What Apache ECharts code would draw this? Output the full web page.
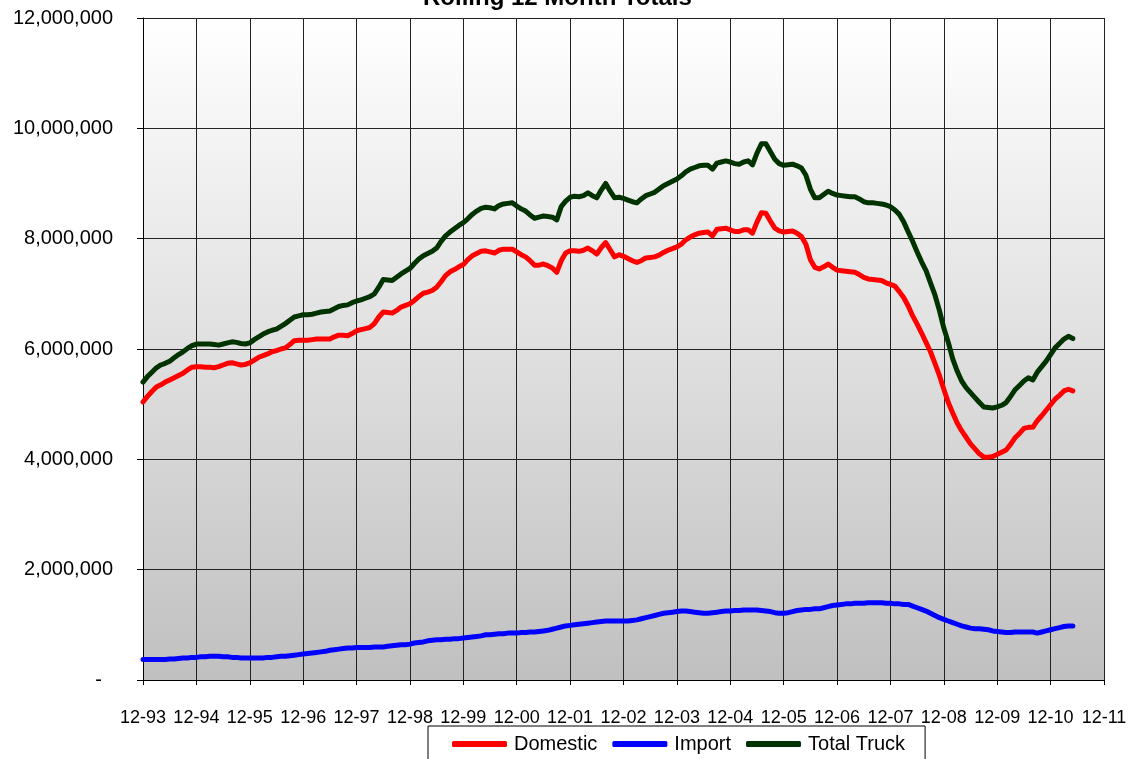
<!DOCTYPE html>
<html>
<head>
<meta charset="utf-8">
<script src="https://cdn.jsdelivr.net/npm/echarts@6/dist/echarts.min.js"></script>
<style>
  html, body { margin: 0; padding: 0; background: #fff; }
  #chart { width: 1133px; height: 759px; }
</style>
</head>
<body>
<div id="chart"></div>
<script>
// year ticks on the x axis (one per December)
const yearTicks = ["12-93", "12-94", "12-95", "12-96", "12-97", "12-98", "12-99", "12-00", "12-01",
  "12-02", "12-03", "12-04", "12-05", "12-06", "12-07", "12-08", "12-09", "12-10", "12-11"];

// rolling 12 month totals, millions of units, monthly from Dec-93
const domestic = [
  5.04, 5.14, 5.23, 5.31, 5.35, 5.40, 5.44, 5.48, 5.52, 5.56, 5.62, 5.67, 5.68,
  5.68, 5.67, 5.67, 5.66, 5.68, 5.71, 5.74, 5.75, 5.73, 5.71, 5.72, 5.75,
  5.80, 5.85, 5.88, 5.91, 5.95, 5.97, 6.00, 6.02, 6.08, 6.15, 6.16, 6.16,
  6.16, 6.17, 6.18, 6.18, 6.18, 6.18, 6.22, 6.25, 6.25, 6.24, 6.28, 6.33,
  6.35, 6.37, 6.39, 6.46, 6.58, 6.67, 6.66, 6.65, 6.70, 6.76, 6.79, 6.82,
  6.88, 6.95, 7.01, 7.03, 7.06, 7.12, 7.22, 7.33, 7.40, 7.44, 7.49, 7.53,
  7.62, 7.69, 7.73, 7.77, 7.78, 7.76, 7.74, 7.79, 7.81, 7.81, 7.81, 7.76,
  7.71, 7.67, 7.60, 7.52, 7.52, 7.54, 7.51, 7.47, 7.39, 7.60, 7.74, 7.78,
  7.78, 7.77, 7.79, 7.83, 7.78, 7.72, 7.84, 7.93, 7.80, 7.67, 7.71, 7.68,
  7.64, 7.60, 7.57, 7.60, 7.65, 7.66, 7.67, 7.70, 7.75, 7.79, 7.82, 7.85,
  7.90, 7.98, 8.03, 8.07, 8.10, 8.11, 8.12, 8.05, 8.17, 8.18, 8.19, 8.16,
  8.13, 8.13, 8.16, 8.16, 8.10, 8.30, 8.47, 8.46, 8.32, 8.19, 8.14, 8.12,
  8.13, 8.14, 8.10, 8.04, 7.90, 7.62, 7.48, 7.45, 7.49, 7.54, 7.48, 7.43,
  7.42, 7.41, 7.40, 7.39, 7.35, 7.30, 7.27, 7.26, 7.25, 7.24, 7.20, 7.17,
  7.14, 7.04, 6.93, 6.78, 6.60, 6.45, 6.29, 6.12, 5.95, 5.74, 5.52, 5.27,
  5.03, 4.84, 4.66, 4.52, 4.40, 4.28, 4.19, 4.10, 4.04, 4.04, 4.05, 4.09,
  4.13, 4.17, 4.27, 4.39, 4.47, 4.56, 4.58, 4.58, 4.70, 4.79, 4.89, 4.99,
  5.09, 5.16, 5.24, 5.27, 5.24
];
const imports = [
  0.37, 0.37, 0.37, 0.37, 0.37, 0.37, 0.38, 0.38, 0.39, 0.40, 0.40, 0.41, 0.41,
  0.42, 0.42, 0.43, 0.43, 0.43, 0.42, 0.42, 0.41, 0.41, 0.40, 0.40, 0.40,
  0.40, 0.40, 0.40, 0.41, 0.41, 0.42, 0.43, 0.43, 0.44, 0.45, 0.46, 0.47,
  0.48, 0.49, 0.50, 0.51, 0.52, 0.54, 0.55, 0.56, 0.57, 0.58, 0.58, 0.59,
  0.59, 0.59, 0.59, 0.60, 0.60, 0.60, 0.61, 0.62, 0.63, 0.64, 0.64, 0.65,
  0.67, 0.68, 0.69, 0.71, 0.72, 0.73, 0.73, 0.74, 0.74, 0.75, 0.75, 0.76,
  0.77, 0.78, 0.79, 0.80, 0.82, 0.82, 0.83, 0.84, 0.84, 0.85, 0.85, 0.85,
  0.86, 0.86, 0.87, 0.87, 0.88, 0.89, 0.90, 0.92, 0.94, 0.96, 0.98, 0.99,
  1.00, 1.01, 1.02, 1.03, 1.04, 1.05, 1.06, 1.07, 1.07, 1.07, 1.07, 1.07,
  1.07, 1.08, 1.09, 1.11, 1.13, 1.15, 1.17, 1.19, 1.21, 1.22, 1.23, 1.24,
  1.25, 1.25, 1.24, 1.23, 1.22, 1.21, 1.21, 1.22, 1.23, 1.24, 1.25, 1.25,
  1.26, 1.26, 1.27, 1.27, 1.27, 1.27, 1.26, 1.25, 1.24, 1.22, 1.21, 1.21,
  1.22, 1.24, 1.26, 1.27, 1.28, 1.28, 1.29, 1.29, 1.31, 1.33, 1.35, 1.36,
  1.37, 1.38, 1.38, 1.39, 1.39, 1.39, 1.40, 1.40, 1.40, 1.40, 1.39, 1.39,
  1.38, 1.38, 1.37, 1.37, 1.34, 1.31, 1.28, 1.25, 1.21, 1.17, 1.13, 1.10,
  1.07, 1.04, 1.01, 0.98, 0.96, 0.94, 0.93, 0.93, 0.92, 0.91, 0.89, 0.88,
  0.87, 0.86, 0.86, 0.87, 0.87, 0.87, 0.87, 0.87, 0.85, 0.87, 0.89, 0.91,
  0.93, 0.95, 0.97, 0.98, 0.98
];
const totalTruck = [
  5.40, 5.50, 5.58, 5.66, 5.71, 5.74, 5.78, 5.84, 5.90, 5.95, 6.01, 6.06, 6.09,
  6.09, 6.09, 6.09, 6.08, 6.07, 6.09, 6.11, 6.13, 6.12, 6.10, 6.09, 6.11,
  6.17, 6.22, 6.27, 6.31, 6.34, 6.36, 6.41, 6.46, 6.52, 6.58, 6.60, 6.62,
  6.62, 6.63, 6.65, 6.67, 6.68, 6.69, 6.73, 6.77, 6.79, 6.80, 6.84, 6.87,
  6.89, 6.92, 6.95, 7.00, 7.12, 7.26, 7.25, 7.24, 7.30, 7.36, 7.41, 7.46,
  7.55, 7.63, 7.69, 7.73, 7.77, 7.83, 7.95, 8.05, 8.12, 8.18, 8.24, 8.29,
  8.36, 8.44, 8.50, 8.55, 8.57, 8.56, 8.54, 8.60, 8.63, 8.64, 8.65, 8.59,
  8.54, 8.50, 8.43, 8.37, 8.39, 8.41, 8.40, 8.39, 8.34, 8.58, 8.68, 8.75,
  8.77, 8.76, 8.78, 8.83, 8.78, 8.74, 8.88, 9.00, 8.86, 8.74, 8.75, 8.73,
  8.70, 8.67, 8.65, 8.72, 8.78, 8.81, 8.84, 8.90, 8.96, 9.00, 9.04, 9.08,
  9.14, 9.21, 9.26, 9.29, 9.32, 9.33, 9.33, 9.26, 9.37, 9.39, 9.41, 9.39,
  9.36, 9.35, 9.39, 9.41, 9.34, 9.55, 9.72, 9.72, 9.58, 9.44, 9.36, 9.33,
  9.34, 9.35, 9.32, 9.28, 9.15, 8.90, 8.74, 8.74, 8.80, 8.86, 8.82, 8.79,
  8.78, 8.77, 8.76, 8.76, 8.72, 8.67, 8.65, 8.65, 8.64, 8.63, 8.61, 8.58,
  8.52, 8.44, 8.30, 8.12, 7.95, 7.76, 7.58, 7.42, 7.20, 6.98, 6.70, 6.38,
  6.12, 5.82, 5.60, 5.42, 5.30, 5.21, 5.12, 5.03, 4.95, 4.94, 4.93, 4.95,
  4.98, 5.03, 5.14, 5.26, 5.34, 5.42, 5.48, 5.44, 5.58, 5.68, 5.78, 5.90,
  6.02, 6.10, 6.18, 6.23, 6.19
];

const UNIT = 1000000;
const FONT = "Liberation Sans, Arial, sans-serif";

// month categories: Dec-93 .. Dec-11
const categories = [];
yearTicks.forEach((tick, k) => {
  const yy = tick.slice(3);
  if (k === 0) { categories.push(tick); return; }
  for (let m = 1; m <= 12; m++) {
    categories.push(String(m).padStart(2, "0") + "-" + yy);
  }
});

const toUnits = (arr) => arr.map((v) => Math.round(v * UNIT));

const option = {
  animation: false,
  backgroundColor: "#fff",
  title: {
    text: "Rolling 12 Month Totals",
    left: 423,
    top: -14,
    padding: 0,
    textStyle: { fontFamily: FONT, fontSize: 24, fontWeight: "bold", color: "#000" },
  },
  legend: {
    left: 428,
    top: 726,
    padding: [8, 20, 30, 24],
    itemGap: 15,
    itemWidth: 55,
    itemHeight: 6,
    icon: "roundRect",
    borderColor: "#000",
    borderWidth: 1,
    backgroundColor: "#fff",
    textStyle: { fontFamily: FONT, fontSize: 20, color: "#000", padding: [0, 0, 0, 2] },
    data: ["Domestic", "Import", "Total Truck"],
  },
  grid: {
    left: 143,
    right: 29,
    top: 18,
    bottom: 79,
    show: true,
    borderWidth: 0,
    backgroundColor: new echarts.graphic.LinearGradient(0, 0, 0, 1, [
      { offset: 0, color: "#ffffff" },
      { offset: 1, color: "#c0c0c0" },
    ]),
  },
  xAxis: {
    type: "category",
    boundaryGap: false,
    data: categories,
    axisLine: { lineStyle: { color: "#000", width: 1 } },
    axisTick: { interval: 11, length: 5, lineStyle: { color: "#000" } },
    axisLabel: {
      interval: 11,
      margin: 29,
      fontFamily: FONT,
      fontSize: 18,
      color: "#000",
    },
    splitLine: { show: true, interval: 11, lineStyle: { color: "#222", width: 1 } },
  },
  yAxis: {
    type: "value",
    min: 0,
    max: 12000000,
    interval: 2000000,
    axisLine: { show: true, lineStyle: { color: "#000", width: 1 } },
    axisTick: { show: true, length: 6, lineStyle: { color: "#000" } },
    axisLabel: {
      margin: 30,
      fontFamily: FONT,
      fontSize: 20,
      color: "#000",
      formatter: (v) => (v === 0 ? "-  " : v.toLocaleString("en-US")),
    },
    splitLine: { show: true, lineStyle: { color: "#222", width: 1 } },
  },
  series: [
    {
      name: "Domestic",
      type: "line",
      showSymbol: false,
      data: toUnits(domestic),
      color: "#ff0000",
      lineStyle: { width: 5, color: "#ff0000", cap: "round", join: "round" },
      z: 3,
    },
    {
      name: "Import",
      type: "line",
      showSymbol: false,
      data: toUnits(imports),
      color: "#0000ff",
      lineStyle: { width: 5, color: "#0000ff", cap: "round", join: "round" },
      z: 3,
    },
    {
      name: "Total Truck",
      type: "line",
      showSymbol: false,
      data: toUnits(totalTruck),
      color: "#003300",
      lineStyle: { width: 5, color: "#003300", cap: "round", join: "round" },
      z: 3,
    },
  ],
};

const myChart = echarts.init(document.getElementById("chart"));
myChart.setOption(option);
</script>
</body>
</html>
